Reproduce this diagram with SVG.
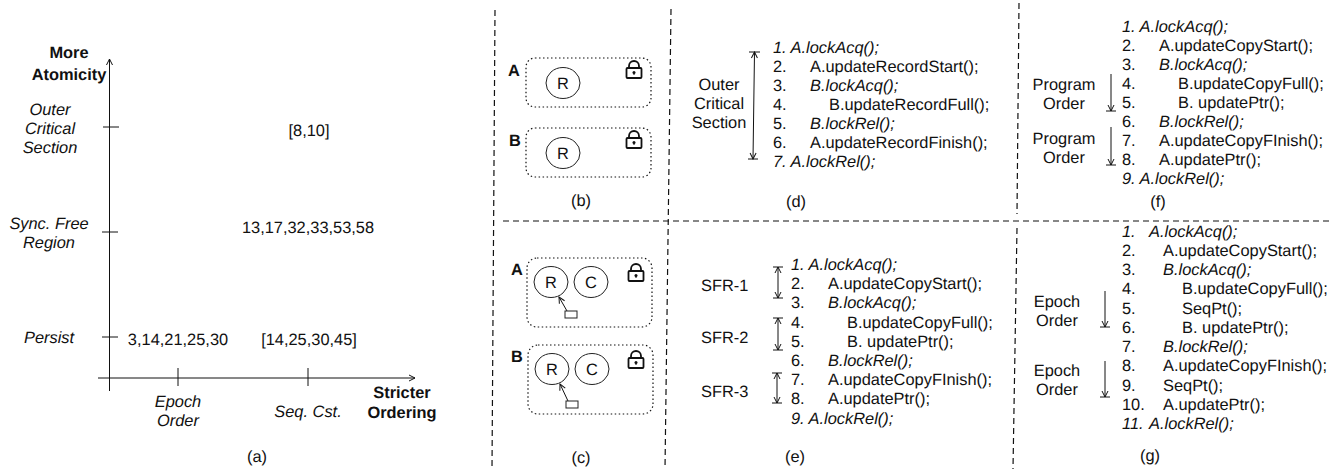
<svg xmlns="http://www.w3.org/2000/svg" xmlns:xlink="http://www.w3.org/1999/xlink" width="1341" height="469" viewBox="0 0 1341 469">
<style>
text{font-family:"Liberation Sans",Arial,sans-serif;font-size:16.4px;fill:#111;text-rendering:geometricPrecision}
.i{font-style:italic}
.b{font-weight:bold}
.m{text-anchor:middle}
.l{fill:none;stroke:#111;stroke-width:1}
.d{fill:none;stroke:#111;stroke-width:1.2;stroke-dasharray:6 4}
.box{fill:none;stroke:#111;stroke-width:1.2;stroke-dasharray:1.5 2.5}
.n{fill:none;stroke:#222;stroke-width:1}
</style>
<defs>
<marker id="o" markerWidth="10" markerHeight="10" refX="9" refY="5" orient="auto-start-reverse" markerUnits="userSpaceOnUse"><path d="M3 2L9 5L3 8" fill="none" stroke="#111" stroke-width="1"/></marker>
<symbol id="lock" width="18" height="20" viewBox="0 0 18 20" overflow="visible">
<rect x="1.500" y="8" width="15" height="10" rx="1" fill="none" stroke="#111" stroke-width="1.800"/>
<path d="M4 8V6A5 5 0 0 1 14 6V8" fill="none" stroke="#111" stroke-width="1.800"/>
<circle cx="9" cy="12.500" r="1.500" fill="#111"/><path d="M9 12.500V15" stroke="#111" stroke-width="1"/>
</symbol>
</defs>
<g id="connectors">
<path class="d" d="M495 10L492 469"/>
<path class="d" d="M671 9L665 469"/>
<path class="d" d="M1019 3L1017 214"/>
<path class="d" d="M1017 228L1013 469"/>
<path class="d" d="M503 221H1332"/>
<path class="l" d="M109.500 391V59" marker-end="url(#o)"/>
<path class="l" d="M98 378H415" marker-end="url(#o)"/>
<path class="l" d="M103 127H119M102 232H118M102 337H118M178 368V386M308 368V386"/>
<path class="l" d="M754.500 52L753 159" marker-start="url(#o)" marker-end="url(#o)"/>
<path class="l" d="M749 52H760M748 159H758"/>
<path class="l" d="M778 267V298" marker-start="url(#o)" marker-end="url(#o)"/>
<path class="l" d="M778 318V350" marker-start="url(#o)" marker-end="url(#o)"/>
<path class="l" d="M777 373V403" marker-start="url(#o)" marker-end="url(#o)"/>
<path class="l" d="M773 267H783M773 298H783M773 318H783M773 350H783M772 373H782M772 403H782"/>
<path class="l" d="M1111 74V111" marker-end="url(#o)"/>
<path class="l" d="M1111 127V165" marker-end="url(#o)"/>
<path class="l" d="M1106 111H1116M1106 165H1116"/>
<path class="l" d="M1105 291V327" marker-end="url(#o)"/>
<path class="l" d="M1105 361V397" marker-end="url(#o)"/>
<path class="l" d="M1100 327H1110M1100 397H1110"/>
<path class="l" d="M567 311L559 297" marker-end="url(#o)"/>
<path class="l" d="M568 401L560 384" marker-end="url(#o)"/>
</g>
<g id="panel-a">
<text class="b m" x="69" y="58">More</text>
<text class="b m" x="69" y="80">Atomicity</text>
<text class="i m" x="50" y="115">Outer</text>
<text class="i m" x="50" y="134">Critical</text>
<text class="i m" x="50" y="153">Section</text>
<text class="i m" x="49" y="229">Sync. Free</text>
<text class="i m" x="49" y="248">Region</text>
<text class="i m" x="49" y="343">Persist</text>
<text class="m" x="309" y="136">[8,10]</text>
<text class="m" x="308" y="233">13,17,32,33,53,58</text>
<text class="m" x="178" y="345">3,14,21,25,30</text>
<text class="m" x="309" y="345">[14,25,30,45]</text>
<text class="i m" x="178" y="407">Epoch</text>
<text class="i m" x="178" y="426">Order</text>
<text class="i m" x="308" y="417">Seq. Cst.</text>
<text class="b m" x="402" y="398">Stricter</text>
<text class="b m" x="402" y="418">Ordering</text>
<text class="m" x="257" y="462">(a)</text>
</g>
<g id="panel-b">
<rect class="box" x="526" y="58" width="125" height="49" rx="9"/>
<rect class="box" x="526" y="128" width="125" height="49" rx="9"/>
<ellipse class="n" cx="563" cy="83" rx="17" ry="15.500"/>
<ellipse class="n" cx="563" cy="153" rx="17" ry="15.500"/>
<use xlink:href="#lock" href="#lock" x="625" y="60"/>
<use xlink:href="#lock" href="#lock" x="625" y="130"/>
<text class="m" x="563" y="89">R</text>
<text class="m" x="563" y="159">R</text>
<text class="b" x="508" y="76">A</text>
<text class="b" x="509" y="146">B</text>
<text class="m" x="581" y="206">(b)</text>
</g>
<g id="panel-c">
<rect class="box" x="527" y="258" width="125" height="69" rx="10"/>
<rect class="box" x="528" y="345" width="125" height="69" rx="10"/>
<ellipse class="n" cx="551" cy="282" rx="17" ry="15.500"/>
<ellipse class="n" cx="591" cy="282" rx="17" ry="15.500"/>
<ellipse class="n" cx="552" cy="369" rx="17" ry="15.500"/>
<ellipse class="n" cx="592" cy="369" rx="17" ry="15.500"/>
<rect class="n" x="565" y="311" width="12" height="7"/>
<rect class="n" x="566" y="401" width="12" height="7"/>
<use xlink:href="#lock" href="#lock" x="627" y="263"/>
<use xlink:href="#lock" href="#lock" x="627" y="350"/>
<text class="m" x="551" y="288">R</text>
<text class="m" x="591" y="288">C</text>
<text class="m" x="552" y="375">R</text>
<text class="m" x="592" y="375">C</text>
<text class="b" x="511" y="275">A</text>
<text class="b" x="511" y="362">B</text>
<text class="m" x="581" y="463">(c)</text>
</g>
<g id="panel-d">
<text class="m" x="719" y="90">Outer</text>
<text class="m" x="719" y="109">Critical</text>
<text class="m" x="719" y="128">Section</text>
<text class="i" x="773" y="53">1. A.lockAcq();</text>
<text x="773" y="72">2.</text><text x="810" y="72">A.updateRecordStart();</text>
<text x="773" y="91">3.</text><text class="i" x="810" y="91">B.lockAcq();</text>
<text x="773" y="110">4.</text><text x="829" y="110">B.updateRecordFull();</text>
<text x="773" y="129">5.</text><text class="i" x="810" y="129">B.lockRel();</text>
<text x="773" y="148">6.</text><text x="810" y="148">A.updateRecordFinish();</text>
<text class="i" x="773" y="167">7. A.lockRel();</text>
<text class="m" x="796" y="207">(d)</text>
</g>
<g id="panel-e">
<text x="701" y="291">SFR-1</text>
<text x="701" y="343">SFR-2</text>
<text x="701" y="397">SFR-3</text>
<text class="i" x="791" y="270">1. A.lockAcq();</text>
<text x="791" y="289">2.</text><text x="828" y="289">A.updateCopyStart();</text>
<text x="791" y="308">3.</text><text class="i" x="828" y="308">B.lockAcq();</text>
<text x="791" y="328">4.</text><text x="847" y="328">B.updateCopyFull();</text>
<text x="791" y="347">5.</text><text x="847" y="347">B. updatePtr();</text>
<text x="791" y="366">6.</text><text class="i" x="828" y="366">B.lockRel();</text>
<text x="791" y="385">7.</text><text x="828" y="385">A.updateCopyFInish();</text>
<text x="791" y="404">8.</text><text x="828" y="404">A.updatePtr();</text>
<text class="i" x="791" y="424">9. A.lockRel();</text>
<text class="m" x="795" y="462">(e)</text>
</g>
<g id="panel-f">
<text class="m" x="1064" y="90">Program</text>
<text class="m" x="1064" y="109">Order</text>
<text class="m" x="1064" y="144">Program</text>
<text class="m" x="1064" y="163">Order</text>
<text class="i" x="1122" y="32">1. A.lockAcq();</text>
<text x="1122" y="51">2.</text><text x="1159" y="51">A.updateCopyStart();</text>
<text x="1122" y="70">3.</text><text class="i" x="1159" y="70">B.lockAcq();</text>
<text x="1122" y="89">4.</text><text x="1178" y="89">B.updateCopyFull();</text>
<text x="1122" y="108">5.</text><text x="1178" y="108">B. updatePtr();</text>
<text x="1122" y="127">6.</text><text class="i" x="1159" y="127">B.lockRel();</text>
<text x="1122" y="146">7.</text><text x="1159" y="146">A.updateCopyFInish();</text>
<text x="1122" y="165">8.</text><text x="1159" y="165">A.updatePtr();</text>
<text class="i" x="1122" y="184">9. A.lockRel();</text>
<text class="m" x="1158" y="207">(f)</text>
</g>
<g id="panel-g">
<text class="m" x="1057" y="307">Epoch</text>
<text class="m" x="1057" y="326">Order</text>
<text class="m" x="1057" y="376">Epoch</text>
<text class="m" x="1057" y="395">Order</text>
<text class="i" x="1122" y="237">1.<tspan x="1149">A.lockAcq();</tspan></text>
<text x="1122" y="256">2.</text><text x="1163" y="256">A.updateCopyStart();</text>
<text x="1122" y="275">3.</text><text class="i" x="1163" y="275">B.lockAcq();</text>
<text x="1122" y="294">4.</text><text x="1182" y="294">B.updateCopyFull();</text>
<text x="1122" y="314">5.</text><text x="1182" y="314">SeqPt();</text>
<text x="1122" y="333">6.</text><text x="1182" y="333">B. updatePtr();</text>
<text x="1122" y="352">7.</text><text class="i" x="1163" y="352">B.lockRel();</text>
<text x="1122" y="371">8.</text><text x="1163" y="371">A.updateCopyFInish();</text>
<text x="1122" y="391">9.</text><text x="1163" y="391">SeqPt();</text>
<text x="1122" y="410">10.</text><text x="1163" y="410">A.updatePtr();</text>
<text class="i" x="1122" y="429">11.<tspan x="1149">A.lockRel();</tspan></text>
<text class="m" x="1150" y="461">(g)</text>
</g>
</svg>
